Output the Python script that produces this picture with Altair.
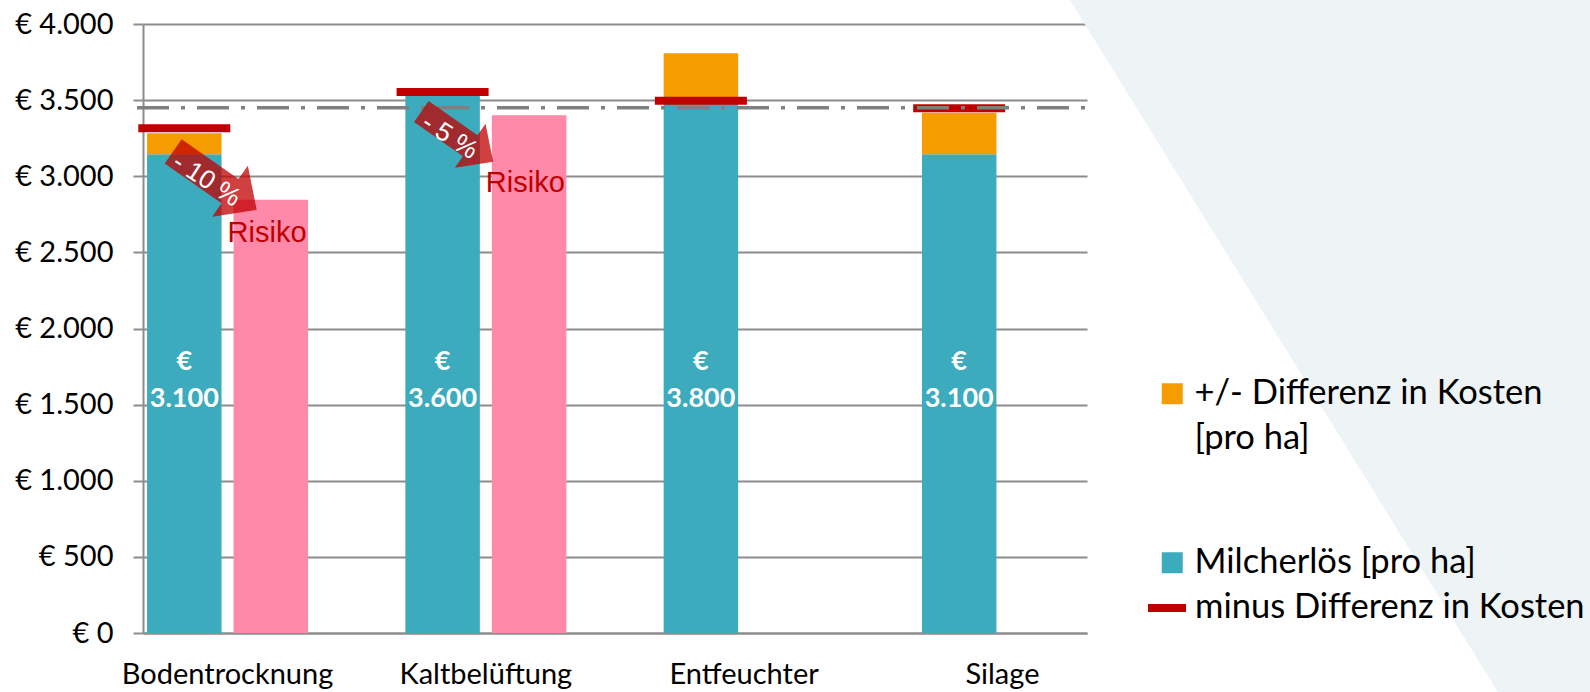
import altair as alt
import pandas as pd

# ---------------- data ----------------
categories = ["Bodentrocknung", "Kaltbelüftung", "Entfeuchter", "Silage"]
milcherloes = [3145, 3530, 3480, 3145]          # teal bars
kosten_top = [3282, 3530, 3808, 3417]           # top of orange (+/- Differenz) segment
minus_diff = [3315, 3553, 3496, 3446]           # red line
risiko_vals = [2845, 3400, None, None]          # pink bars
bar_labels = ["€\n3.100", "€\n3.600", "€\n3.800", "€\n3.100"]
reference_level = [3450]
y_ticks = [0, 500, 1000, 1500, 2000, 2500, 3000, 3500, 4000]

arrow_cats = ["Bodentrocknung", "Kaltbelüftung"]
arrow_texts = ["- 10 %", "- 5 %"]
arrow_level = [2971, 3260]
arrow_text_level = [2975, 3260]
risk_text_level = [2627, 2956]
label_level = 1783

# ---------------- styles ----------------
TEAL = "#3CABBD"
ORANGE = "#F59C00"
PINK = "#FF89A9"
RED = "#C00000"
GRID = "#8C8C8C"
FONT = "Lato"
ARIAL = "Liberation Sans"

LEG_ORANGE = "+/- Differenz in Kosten [pro ha]"
LEG_TEAL = "Milcherlös [pro ha]"
LEG_RED = "minus Differenz in Kosten"

ARROW = "M -1 -0.29 L 0.36 -0.29 L 0.36 -0.61 L 1 0 L 0.36 0.61 L 0.36 0.29 L -1 0.29 Z"
BG = "M -0.749 -1 L 0.754 -1 L 0.754 1 L 0.488 1 Z"

bars = pd.DataFrame({
    "cat": categories,
    "s": ["Milch"] * 4,
    "milch": milcherloes,
    "top": kosten_top,
    "minus": minus_diff,
    "label": bar_labels,
    "leg_teal": [LEG_TEAL] * 4,
    "leg_orange": [LEG_ORANGE] * 4,
    "leg_red": [LEG_RED] * 4,
})
risk = pd.DataFrame({"cat": categories, "s": ["Risiko"] * 4, "risiko": risiko_vals}).dropna()

x_scale = alt.Scale(domain=categories, paddingInner=0.3767, paddingOuter=0.0157)
xo_scale = alt.Scale(domain=["Milch", "Risiko"], paddingInner=0.139, paddingOuter=0)
y_scale = alt.Scale(domain=[0, 4000], nice=False)

x_axis = alt.Axis(title=None, labelAngle=0, ticks=False, tickSize=0, grid=False,
                  domainColor=GRID, domainWidth=2, labelFont=FONT, labelFontSize=29,
                  labelColor="black", labelPadding=50, labelBaseline="alphabetic",
                  labelLimit=0)
y_axis = alt.Axis(title=None, values=y_ticks,
                  labelExpr="'€ ' + replace(format(datum.value, ',d'), ',', '.')",
                  tickSize=10, tickColor=GRID, tickWidth=2, domainColor=GRID, domainWidth=2,
                  gridColor=GRID, gridWidth=2, labelFont=FONT, labelFontSize=29,
                  labelColor="black", labelPadding=20)

X = alt.X("cat:N", scale=x_scale, sort=categories, axis=x_axis)
XO = alt.XOffset("s:N", scale=xo_scale)


def legend(x, y, **kw):
    base = dict(orient="none", legendX=x, legendY=y, title=None, labelFont=FONT,
                labelFontSize=34.5, labelColor="black", labelLimit=800, padding=0,
                symbolOpacity=1)
    base.update(kw)
    return alt.Legend(**base)


bg = alt.Chart(pd.DataFrame({"k": [0]})).mark_point(
    shape=BG, size=478864, filled=True, color="#EEF3F6", opacity=1, strokeWidth=0
).encode(x=alt.value(1186), y=alt.value(322))

teal = alt.Chart(bars).mark_bar().encode(
    x=X, xOffset=XO,
    y=alt.Y("milch:Q", scale=y_scale, axis=y_axis),
    color=alt.Color("leg_teal:N", scale=alt.Scale(domain=[LEG_TEAL], range=[TEAL]),
                    legend=legend(1012, 521.5, symbolType="square", symbolSize=441,
                                  symbolStrokeWidth=0, labelOffset=5)),
)

orange = alt.Chart(bars).mark_bar().encode(
    x=X, xOffset=XO,
    y=alt.Y("milch:Q", scale=y_scale), y2="top:Q",
    color=alt.Color("leg_orange:N", scale=alt.Scale(domain=[LEG_ORANGE], range=[ORANGE]),
                    legend=legend(1012, 352.5, symbolType="square", symbolSize=441,
                                  symbolStrokeWidth=0, labelOffset=5,
                                  labelExpr="['+/- Differenz in Kosten', '[pro ha]']")),
)

pink = alt.Chart(risk).mark_bar(color=PINK).encode(
    x=X, xOffset=XO, y=alt.Y("risiko:Q", scale=y_scale)
)

red = alt.Chart(bars).mark_tick(filled=False, thickness=1, size=85, strokeWidth=7,
                                opacity=1).encode(
    x=X, xOffset=XO,
    y=alt.Y("minus:Q", scale=y_scale),
    color=alt.Color("leg_red:N", scale=alt.Scale(domain=[LEG_RED], range=[RED]),
                    legend=legend(1001, 561, symbolType="stroke", symbolSize=1444,
                                  symbolStrokeWidth=8, labelOffset=5)),
)

dash = alt.Chart(pd.DataFrame({"v": reference_level})).mark_rule(
    color="#7F7F7F", strokeWidth=3.5, strokeDash=[32, 12, 4, 12]
).encode(y=alt.Y("v:Q", scale=y_scale), x=alt.value(-6), x2=alt.value(944))

arrow_sizes = [10404, 7691]
arrow_dx = [-12.6, -28.6]
text_dx = [-21, -36]
annot_layers = []
for i in range(len(arrow_cats)):
    d = pd.DataFrame({"cat": [arrow_cats[i]], "ay": [arrow_level[i]],
                      "ty": [arrow_text_level[i]], "txt": [arrow_texts[i]],
                      "ry": [risk_text_level[i]], "rt": ["Risiko"]})
    annot_layers.append(alt.Chart(d).mark_point(
        shape=ARROW, size=arrow_sizes[i], angle=35, filled=True, color=RED,
        opacity=0.75, strokeWidth=0, xOffset=arrow_dx[i]
    ).encode(x=X, y=alt.Y("ay:Q", scale=y_scale)))
    annot_layers.append(alt.Chart(d).mark_text(
        angle=33, color="white", font=ARIAL, fontSize=26, align="center",
        baseline="middle", xOffset=text_dx[i]
    ).encode(x=X, y=alt.Y("ty:Q", scale=y_scale), text="txt:N"))
    annot_layers.append(alt.Chart(d).mark_text(
        color=RED, font=ARIAL, fontSize=29, align="left", baseline="middle"
    ).encode(x=X, y=alt.Y("ry:Q", scale=y_scale), text="rt:N"))

labels = alt.Chart(bars).mark_text(
    color="white", font=FONT, fontWeight="bold", fontSize=27, lineBreak="\n",
    lineHeight=37, align="center", baseline="middle"
).encode(x=X, xOffset=XO, y=alt.datum(label_level), text="label:N")

chart = alt.layer(bg, teal, orange, pink, red, dash, *annot_layers, labels).resolve_scale(
    color="independent"
).properties(
    width=944, height=609,
    autosize=alt.AutoSizeParams(type="none"),
    padding={"left": 143, "top": 24, "right": 503, "bottom": 59},
    background="white",
).configure(
    style={"guide-label": {"lineHeight": 45}}
).configure_view(stroke=None)

chart.save("out.html", embed_options={"renderer": "svg", "actions": False})
